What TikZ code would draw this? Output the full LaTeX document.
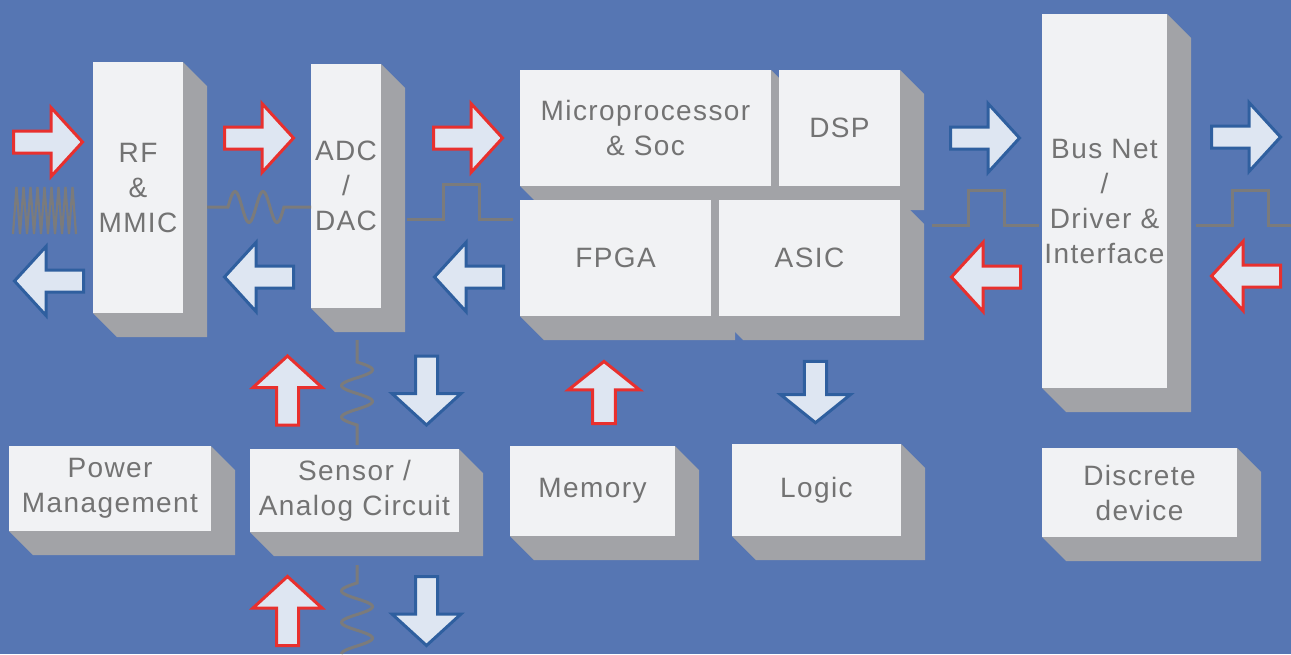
\documentclass[tikz,border=0pt]{standalone}
\usepackage{fontspec}
\setmainfont{Liberation Sans}[LetterSpace=5]
\usetikzlibrary{calc,backgrounds}

\definecolor{bgblue}{HTML}{5676B3}
\definecolor{face}{HTML}{F1F2F4}
\definecolor{side}{HTML}{A2A3A7}
\definecolor{label}{HTML}{737373}
\definecolor{afill}{HTML}{DEE6F2}
\definecolor{ared}{HTML}{E8302E}
\definecolor{ablue}{HTML}{2F5F9F}
\definecolor{wave}{HTML}{7B7B7B}

\tikzset{
  block/.style={fill=face, text=label, align=center, inner sep=0pt, outer sep=0pt,
    font=\fontsize{28}{35}\selectfont},
  inarrow/.style={draw=ared, fill=afill, line width=3pt, line join=miter},
  outarrow/.style={draw=ablue, fill=afill, line width=3pt, line join=miter},
  signal/.style={draw=wave, line width=3pt},
  fatarrow/.pic={
    \path[pic actions] (-34.5,-11) -- (3,-11) -- (3,-34.5) -- (34.5,0)
      -- (3,34.5) -- (3,11) -- (-34.5,11) -- cycle;
  }
}

\begin{document}
\begin{tikzpicture}[x=1pt, y=-1pt]
	\useasboundingbox (0,0) rectangle (1291,654);
	% blocks
	\node [block, minimum width=90, minimum height=251] (rf) at (138,187.5) {RF\\\&\\MMIC};
	\node [block, minimum width=70, minimum height=244] (adc) at (346,186) {ADC\\/\\DAC};
	\node [block, minimum width=251, minimum height=116] (mpu) at (645.5,128) {Microprocessor\\\& Soc};
	\node [block, minimum width=121, minimum height=116] (dsp) at (839.5,128) {DSP};
	\node [block, minimum width=191, minimum height=116] (fpga) at (615.5,258) {FPGA};
	\node [block, minimum width=181, minimum height=116] (asic) at (809.5,258) {ASIC};
	\node [block, minimum width=125, minimum height=374] (bus) at (1104.5,201) {Bus Net\\/\\Driver \&\\Interface};
	\node [block, minimum width=202, minimum height=85] (power) at (110,488.5) {Power\\Management};
	\node [block, minimum width=209, minimum height=83] (sensor) at (354.5,490.5) {Sensor /\\Analog Circuit};
	\node [block, minimum width=165, minimum height=90] (memory) at (592.5,491) {Memory};
	\node [block, minimum width=169, minimum height=92] (logic) at (816.5,490) {Logic};
	\node [block, minimum width=195, minimum height=89] (discrete) at (1139.5,492.5) {Discrete\\device};

	% background and side faces
	\begin{scope}[on background layer]
	\fill [bgblue] (0,0) rectangle (1291,654);
	\foreach \b in {rf,adc,mpu,dsp,fpga,asic,bus,power,sensor,memory,logic,discrete}
		\fill [side] (\b.north east) -- ($(\b.north east)+(24,24)$) -- ($(\b.south east)+(24,24)$)
			-- ($(\b.south west)+(24,24)$) -- (\b.south west) -- (\b.south east) -- cycle;
	\end{scope}

	% signal arrows
	\pic [inarrow] at (48,142) {fatarrow};
	\pic [inarrow] at (259,138) {fatarrow};
	\pic [inarrow] at (468,138) {fatarrow};
	\pic [outarrow, rotate=180] at (49,281) {fatarrow};
	\pic [outarrow, rotate=180] at (259,277) {fatarrow};
	\pic [outarrow, rotate=180] at (469,277) {fatarrow};
	\pic [outarrow] at (985,138) {fatarrow};
	\pic [outarrow] at (1246,137) {fatarrow};
	\pic [inarrow, rotate=180] at (986,277) {fatarrow};
	\pic [inarrow, rotate=180] at (1246,276) {fatarrow};
	\pic [inarrow, rotate=90] at (287.5,390.5) {fatarrow};
	\pic [inarrow, rotate=90] at (287.5,611) {fatarrow};
	\pic [outarrow, rotate=-90] at (426.5,390.5) {fatarrow};
	\pic [outarrow, rotate=-90] at (426.5,611) {fatarrow};
	\pic [inarrow, rotate=90, xscale=.9, yscale=1.03] at (604,392.5) {fatarrow};
	\pic [outarrow, rotate=-90, xscale=.89, yscale=1.01] at (815.5,392) {fatarrow};

	% waveforms
	\draw [signal, line width=2.2pt] (13,234) foreach \i in {0,...,8} { -- ({16.5+7*\i},187) -- ({20+7*\i},234) };
	\draw [signal] (207,207) -- (228,207) -- plot [domain=0:56, samples=57, smooth] ({228+\x},{207-15.5*sin(\x/28*360)}) -- (311,207);
	\draw [signal] (407,219) -- (443,219) -- (443,184) -- (479,184) -- (479,219) -- (513,219);
	\draw [signal] (932,225) -- (968,225) -- (968,190) -- (1004,190) -- (1004,225) -- (1039,225);
	\draw [signal] (1196,225) -- (1232,225) -- (1232,190) -- (1268,190) -- (1268,225) -- (1291,225);
	\draw [signal] (357,340) -- (357,362) -- plot [domain=0:63, samples=64, smooth] ({357+15.5*sin(\x/31.5*360)},{362+\x}) -- (357,445);
	\draw [signal] (357,565) -- (357,583) -- plot [domain=0:71, samples=72, smooth] ({357-15.5*sin(\x/31.5*360)},{583+\x});
\end{tikzpicture}
\end{document}
